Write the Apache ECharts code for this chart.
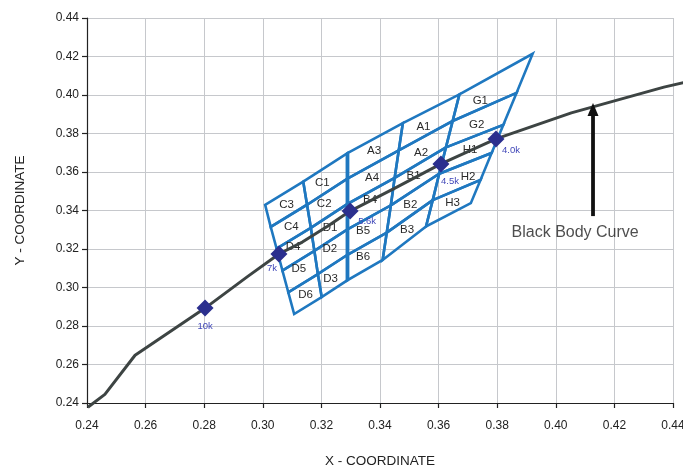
<!DOCTYPE html>
<html><head><meta charset="utf-8">
<script src="https://cdn.jsdelivr.net/npm/echarts@6/dist/echarts.min.js"></script>
<style>html,body{margin:0;padding:0;background:#fff}#c{width:683px;height:472px}</style>
</head><body><div id="c"></div>
<script>
// ---- data ----
const xTicks = ['0.24','0.26','0.28','0.30','0.32','0.34','0.36','0.38','0.40','0.42','0.44'];
const yTicks = ['0.24','0.26','0.28','0.30','0.32','0.34','0.36','0.38','0.40','0.42','0.44'];

// Black body (Planckian) locus
const locusX = [0.2403, 0.2461, 0.2564, 0.2803, 0.2950, 0.3055, 0.3135, 0.3221, 0.3298, 0.3451, 0.3608, 0.3796, 0.4053, 0.4369, 0.4447];
const locusY = [0.2378, 0.2445, 0.2648, 0.2893, 0.3059, 0.3174, 0.3236, 0.3318, 0.3397, 0.3516, 0.3642, 0.3772, 0.3907, 0.4041, 0.4068];

// CCT markers on the locus
const cctNames = ['10k', '7k', '5.6k', '4.5k', '4.0k'];
const cctX = [0.2803, 0.3055, 0.3298, 0.3608, 0.3796];
const cctY = [0.2893, 0.3174, 0.3397, 0.3642, 0.3772];

// Bin grid: 6 boundary lines (left to right), each with 6 vertices (top to bottom)
const binEdgeX = [
  [0.3008, 0.3027, 0.3047, 0.3067, 0.3087, 0.3107],
  [0.3138, 0.3151, 0.3164, 0.3176, 0.3188, 0.3201],
  [0.3289, 0.3289, 0.3289, 0.3289, 0.3289, 0.3289],
  [0.3478, 0.3464, 0.3450, 0.3437, 0.3423, 0.3409],
  [0.3671, 0.3648, 0.3625, 0.3602, 0.3580, 0.3557],
  [0.3921, 0.3866, 0.3821, 0.3781, 0.3743, 0.3710]
];
const binEdgeY = [
  [0.3429, 0.3315, 0.3202, 0.3088, 0.2975, 0.2862],
  [0.3550, 0.3430, 0.3310, 0.3190, 0.3070, 0.2950],
  [0.3698, 0.3566, 0.3434, 0.3302, 0.3170, 0.3038],
  [0.3854, 0.3712, 0.3569, 0.3427, 0.3285, 0.3143],
  [0.4003, 0.3865, 0.3728, 0.3591, 0.3454, 0.3317],
  [0.4214, 0.4011, 0.3845, 0.3699, 0.3559, 0.3438]
];
// Bin names per column (top to bottom)
const binNames = [
  ['C3', 'C4', 'D4', 'D5', 'D6'],
  ['C1', 'C2', 'D1', 'D2', 'D3'],
  ['A3', 'A4', 'B4', 'B5', 'B6'],
  ['A1', 'A2', 'B1', 'B2', 'B3'],
  ['G1', 'G2', 'H1', 'H2', 'H3']
];

// Annotation
const annotText = 'Black Body Curve';
const annotPos = [0.4066, 0.3283];
const arrowX = [0.4127, 0.4127];
const arrowY = [0.3371, 0.3925];

// ---- styles ----
const BLUE = '#1f78c0';
const FONT = '"Liberation Sans", Arial, sans-serif';
const cctLabelOffsets = [[0, 18], [-7, 14], [17, 10], [9, 17], [15, 11]];
// small pixel nudges of bin labels away from the cell centroid
const binLabelNudge = {
  D4: [-3, -3], D5: [-2, -3], C1: [-4, 3], C2: [-4, 0], D2: [-2, -3], D3: [-3, 2],
  B4: [0, -4], B5: [-5, 0], B6: [-3, 0], A1: [-5, 5], A2: [-2, 4], B1: [-4, 0], B2: [-2, 2],
  G1: [-10, 10], G2: [-3, 3], H2: [7, 0]
};

// ---- build ----
const cells = [];
for (let c = 0; c < 5; c++) {
  for (let r = 0; r < 5; r++) {
    cells.push({
      name: binNames[c][r],
      verts: [
        [binEdgeX[c][r], binEdgeY[c][r]],
        [binEdgeX[c + 1][r], binEdgeY[c + 1][r]],
        [binEdgeX[c + 1][r + 1], binEdgeY[c + 1][r + 1]],
        [binEdgeX[c][r + 1], binEdgeY[c][r + 1]]
      ]
    });
  }
}
const cellData = cells.map(cl => {
  const cx = cl.verts.reduce((s, v) => s + v[0], 0) / 4;
  const cy = cl.verts.reduce((s, v) => s + v[1], 0) / 4;
  return [cx, cy];
});
const locusPts = locusX.map((x, i) => [x, locusY[i]]);

const xMin = parseFloat(xTicks[0]), xMax = parseFloat(xTicks[xTicks.length - 1]);
const yMin = parseFloat(yTicks[0]), yMax = parseFloat(yTicks[yTicks.length - 1]);
const xStep = parseFloat(xTicks[1]) - xMin, yStep = parseFloat(yTicks[1]) - yMin;

function axisCommon(ticks, margin) {
  return {
    axisLine: { show: true, onZero: false, lineStyle: { color: '#222', width: 1.2 } },
    axisTick: { show: true, inside: false, length: 5, lineStyle: { color: '#222', width: 1.2 } },
    splitLine: { show: true, lineStyle: { color: '#c6c8cc', width: 1 } },
    axisLabel: {
      color: '#222', fontSize: 12, fontFamily: FONT, margin: margin,
      formatter: v => {
        const idx = ticks.findIndex(t => Math.abs(parseFloat(t) - v) < 1e-6);
        return idx >= 0 ? ticks[idx] : '';
      }
    },
    nameTextStyle: { color: '#222', fontSize: 13.5, fontFamily: FONT }
  };
}

const chart = echarts.init(document.getElementById('c'), null, { renderer: 'canvas' });
chart.setOption({
  animation: false,
  backgroundColor: '#fff',
  grid: { left: 87, right: 10, top: 18, bottom: 69, containLabel: false, outerBoundsMode: 'none' },
  xAxis: Object.assign({
    type: 'value', min: xMin, max: xMax, interval: xStep,
    name: 'X - COORDINATE', nameLocation: 'middle', nameGap: 51
  }, axisCommon(xTicks, 17)),
  yAxis: Object.assign({
    type: 'value', min: yMin, max: yMax, interval: yStep,
    name: 'Y - COORDINATE', nameLocation: 'middle', nameGap: 60
  }, axisCommon(yTicks, 8)),
  series: [
    {
      type: 'custom',
      z: 2,
      data: cellData,
      encode: { x: 0, y: 1 },
      renderItem: function (params, api) {
        const cl = cells[params.dataIndex];
        const pts = cl.verts.map(v => api.coord(v));
        const ctr = api.coord(cellData[params.dataIndex]);
        const nd = binLabelNudge[cl.name] || [0, 0];
        return {
          type: 'group',
          children: [
            { type: 'polygon', shape: { points: pts },
              style: { fill: 'none', stroke: BLUE, lineWidth: 2.6, lineJoin: 'miter' } },
            { type: 'text', z2: 1,
              style: { text: cl.name, x: ctr[0] + nd[0], y: ctr[1] + nd[1], align: 'center', verticalAlign: 'middle',
                       fill: '#2a2a2a', font: '11.5px ' + FONT } }
          ]
        };
      }
    },
    {
      type: 'line',
      z: 2,
      clip: false,
      symbol: 'none',
      lineStyle: { color: BLUE, width: 3.8 },
      data: binEdgeX[2].map((x, i) => [x, binEdgeY[2][i]])
    },
    {
      type: 'custom',
      z: 3,
      clip: false,
      data: [locusPts[0]],
      encode: { x: 0, y: 1 },
      renderItem: function (params, api) {
        return {
          type: 'polyline',
          shape: { points: locusPts.map(p => api.coord(p)) },
          style: { fill: 'none', stroke: '#3d4443', lineWidth: 3, lineJoin: 'round' }
        };
      }
    },
    {
      type: 'scatter',
      z: 4,
      symbol: 'diamond',
      symbolSize: 17,
      itemStyle: { color: '#2b2f8e', opacity: 1 },
      data: cctX.map((x, i) => ({
        value: [x, cctY[i]],
        name: cctNames[i],
        label: {
          show: true, position: 'inside', offset: cctLabelOffsets[i],
          formatter: cctNames[i], color: '#4047b8', fontSize: 9.5, fontFamily: FONT
        }
      }))
    },
    {
      type: 'line',
      z: 5,
      clip: false,
      lineStyle: { color: '#111', width: 3.8 },
      data: [
        { value: [arrowX[0], arrowY[0]], symbol: 'none' },
        { value: [arrowX[1], arrowY[1]], symbol: 'triangle', symbolSize: [11, 13], itemStyle: { color: '#111' } }
      ]
    },
    {
      type: 'scatter',
      z: 5,
      symbolSize: 0,
      data: [{ value: annotPos }],
      label: { show: true, position: 'inside', formatter: annotText, color: '#222', fontSize: 16, fontFamily: FONT }
    }
  ]
});
</script></body></html>
